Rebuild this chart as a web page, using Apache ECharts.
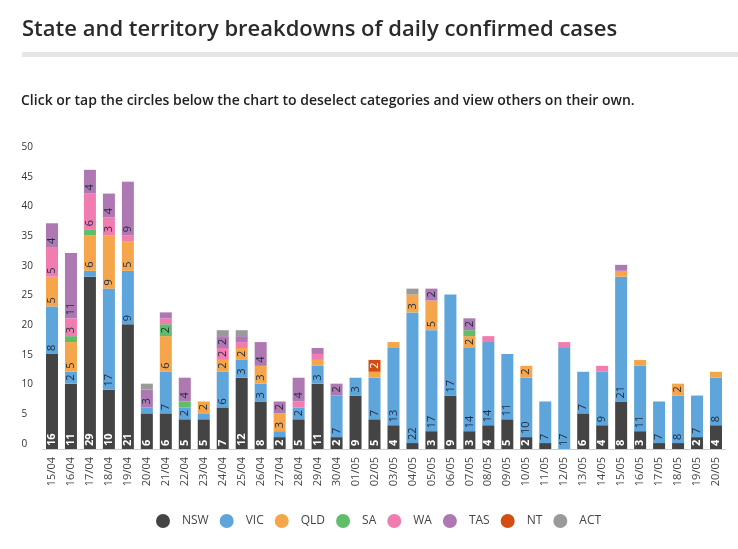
<!DOCTYPE html>
<html>
<head>
<meta charset="utf-8">
<script src="https://cdn.jsdelivr.net/npm/echarts@6/dist/echarts.min.js"></script>
<style>
html,body{margin:0;padding:0;background:#fff;}
#chart{width:738px;height:549px;}
</style>
</head>
<body>
<div id="chart"></div>
<script>
const categories = ['15/04','16/04','17/04','18/04','19/04','20/04','21/04','22/04','23/04','24/04','25/04','26/04','27/04','28/04','29/04','30/04','01/05','02/05','03/05','04/05','05/05','06/05','07/05','08/05','09/05','10/05','11/05','12/05','13/05','14/05','15/05','16/05','17/05','18/05','19/05','20/05'];
const NSW = [16,11,29,10,21,6,6,5,5,7,12,8,2,5,11,2,9,5,4,1,3,9,3,4,5,2,1,0,6,4,8,3,1,1,2,4];
const VIC = [8,2,1,17,9,1,7,2,1,6,3,3,1,2,3,7,3,7,13,22,17,17,14,14,11,10,7,17,7,9,21,11,7,8,7,8];
const QLD = [5,5,6,9,5,0,6,0,2,2,2,3,3,0,1,0,0,1,1,3,5,0,2,0,0,2,0,0,0,0,1,1,0,2,0,1];
const SA  = [0,1,1,0,0,0,2,1,0,0,0,0,0,0,0,0,0,0,0,0,0,0,1,0,0,0,0,0,0,0,0,0,0,0,0,0];
const WA  = [5,3,6,3,1,0,1,0,0,2,1,0,0,1,1,0,0,0,0,0,0,0,0,1,0,0,0,1,0,1,0,0,0,0,0,0];
const TAS = [4,11,4,4,9,3,1,4,0,2,1,4,2,4,1,2,0,0,0,0,2,0,2,0,0,0,0,0,0,0,1,0,0,0,0,0];
const NT  = [0,0,0,0,0,0,0,0,0,0,0,0,0,0,0,0,0,2,0,0,0,0,0,0,0,0,0,0,0,0,0,0,0,0,0,0];
const ACT = [0,0,0,0,0,1,0,0,0,1,1,0,0,0,0,0,0,0,0,1,0,0,0,0,0,0,0,0,0,0,0,0,0,0,0,0];
const yTicks = [0,5,10,15,20,25,30,35,40,45,50];

const seriesDefs = [
  {name:'NSW', data:NSW, color:'#444444', label:'#ffffff', bold:true},
  {name:'VIC', data:VIC, color:'#5DA5DA', label:'#1b2a45'},
  {name:'QLD', data:QLD, color:'#F5A54A', label:'#1b2a45'},
  {name:'SA',  data:SA,  color:'#60BD68', label:'#1b2a45'},
  {name:'WA',  data:WA,  color:'#F17CB0', label:'#1b2a45'},
  {name:'TAS', data:TAS, color:'#AE78B2', label:'#1b2a45'},
  {name:'NT',  data:NT,  color:'#D24D0F', label:'#ffffff'},
  {name:'ACT', data:ACT, color:'#9A9A9A', label:'#1b2a45'}
];

const font = '"Open Sans", "Noto Sans", sans-serif';
const chart = echarts.init(document.getElementById('chart'), null, {renderer:'canvas'});
chart.setOption({
  animation:false,
  backgroundColor:'#ffffff',
  title:[
    {text:'State and territory breakdowns of daily confirmed cases', left:17, top:14,
     textStyle:{fontFamily:font, fontSize:22, fontWeight:600, color:'#2a2a2a'}},
    {text:'Click or tap the circles below the chart to deselect categories and view others on their own.', left:16, top:89,
     textStyle:{fontFamily:font, fontSize:14, fontWeight:600, color:'#222'}}
  ],
  graphic:[
    {type:'rect', left:22, top:52, shape:{width:716, height:5}, style:{fill:'#e6e6e6'}}
  ],
  legend:{
    left:151, top:509, icon:'circle', itemWidth:14, itemHeight:14, itemGap:11,
    textStyle:{fontFamily:font, fontSize:12, color:'#444', padding:[0,0,0,7]},
    data:seriesDefs.map(s=>s.name)
  },
  grid:{left:42.5, right:12.5, top:152, bottom:100},
  xAxis:{
    type:'category', data:categories,
    axisLine:{lineStyle:{color:'#cccccc'}},
    axisTick:{show:false},
    axisLabel:{rotate:90, fontFamily:font, fontSize:11, color:'#444', margin:8, interval:0}
  },
  yAxis:{
    type:'value', min:0, max:50, interval:5,
    splitLine:{show:false},
    axisLine:{show:false}, axisTick:{show:false},
    axisLabel:{fontFamily:font, fontSize:10, color:'#333', align:'left', margin:21, verticalAlign:'bottom',
      formatter:v=> yTicks.includes(v) ? String(v) : ''}
  },
  series:seriesDefs.map(s=>({
    name:s.name, type:'bar', stack:'total', data:s.data, barWidth:12,
    itemStyle:{color:s.color},
    label:{show:true, position:'insideBottom', rotate:90, align:'left', verticalAlign:'middle', distance:3,
      fontFamily:font, fontSize:11, fontWeight:s.bold?'bold':'normal', color:s.label,
      formatter:p=> p.value>=2 ? String(p.value) : ''}
  }))
});
</script>
</body>
</html>
